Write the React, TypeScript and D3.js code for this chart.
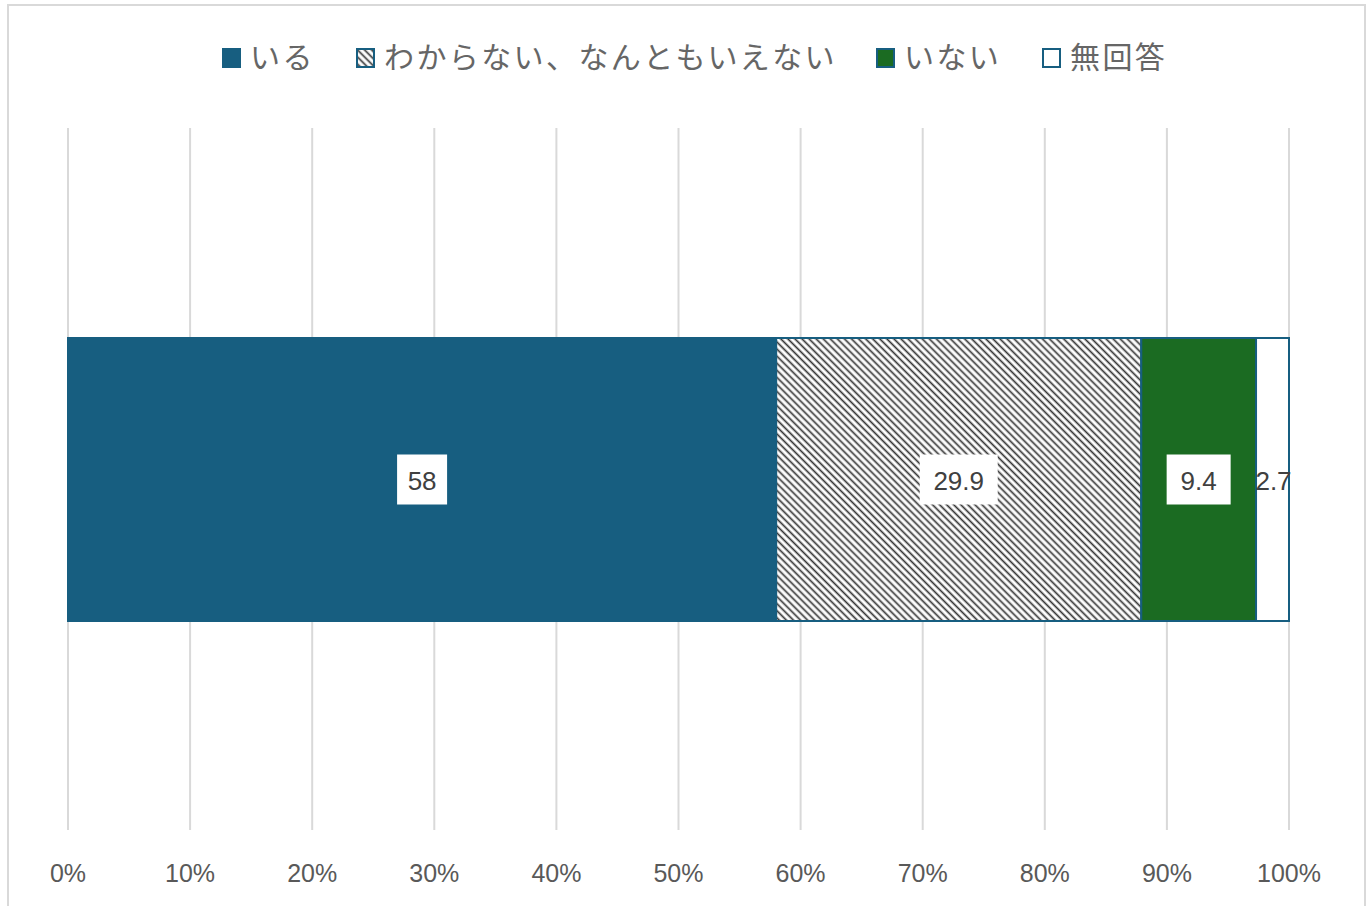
import React from "react";
import * as d3 from "d3";

const categories = ["いる", "わからない、なんともいえない", "いない", "無回答"];
const values = [58, 29.9, 9.4, 2.7];
const tickValues = [0, 10, 20, 30, 40, 50, 60, 70, 80, 90, 100];
const tickLabels = ["0%", "10%", "20%", "30%", "40%", "50%", "60%", "70%", "80%", "90%", "100%"];

const W = 1371;
const H = 906;
const fills = ["#175E80", "url(#hatch)", "#1B6B22", "#FFFFFF"];
const legendX = [222, 356, 876, 1042];
const FONT = "'Liberation Sans', 'Noto Sans CJK JP', sans-serif";
const JFONT = "'Noto Sans CJK JP', sans-serif";

export default function App() {
  const x = d3.scaleLinear().domain([0, 100]).range([68, 1289]);
  const total = d3.sum(values);
  let acc = 0;
  const segs = values.map((v, i) => {
    const s = { x0: (acc / total) * 100, x1: ((acc + v) / total) * 100, v, i };
    acc += v;
    return s;
  });
  const by = 338;
  const bh = 283;
  return (
    <svg width={W} height={H} style={{ position: "absolute", left: 0, top: 0, background: "#fff" }}>
      <defs>
        <pattern id="hatch" patternUnits="userSpaceOnUse" width="5" height="5" patternTransform="rotate(45)">
          <rect width="5" height="5" fill="#fff" />
          <line x1="0" y1="2.5" x2="5" y2="2.5" stroke="#333" strokeWidth="1.7" />
        </pattern>
      </defs>
      <rect x={8} y={5} width={1357} height={910} fill="#fff" stroke="#d9d9d9" strokeWidth={2} />
      {tickValues.map((t) => (
        <line key={t} x1={x(t)} x2={x(t)} y1={128} y2={830} stroke="#d9d9d9" strokeWidth={2} />
      ))}
      {segs.map((s) => (
        <rect key={s.i} x={x(s.x0)} y={by} width={x(s.x1) - x(s.x0)} height={bh}
          fill={fills[s.i]} stroke="#175E80" strokeWidth={2} />
      ))}
      {segs.map((s) => {
        const cx = (x(s.x0) + x(s.x1)) / 2;
        const cy = by + bh / 2;
        const label = String(s.v);
        const w = label.length * 14 + 22;
        const last = s.i === segs.length - 1;
        return (
          <g key={"l" + s.i}>
            {!last && <rect x={cx - w / 2} y={cy - 25} width={w} height={50} fill="#fff" />}
            <text x={last ? cx + 1 : cx} y={cy + 10} textAnchor="middle" fontSize={26} fill="#404040" fontFamily={FONT}>{label}</text>
          </g>
        );
      })}
      {tickValues.map((t, i) => (
        <text key={"t" + t} x={x(t)} y={882} textAnchor="middle" fontSize={25} fill="#595959" fontFamily={FONT}>{tickLabels[i]}</text>
      ))}
      {categories.map((c, i) => (
        <g key={"g" + c}>
          <rect x={legendX[i] + 1} y={49} width={17} height={18} fill={fills[i]} stroke="#175E80" strokeWidth={2} />
          <text x={legendX[i] + 28} y={68} fontSize={30} letterSpacing={2.4} fill="#666" fontFamily={JFONT}>{c}</text>
        </g>
      ))}
    </svg>
  );
}
